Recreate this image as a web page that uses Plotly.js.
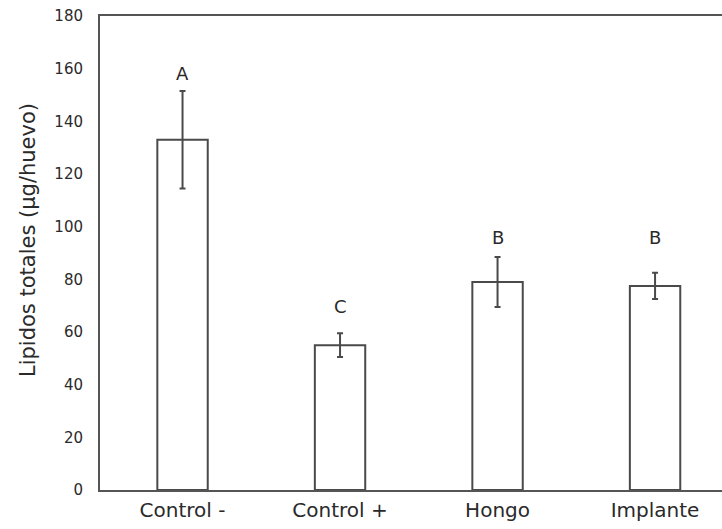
<!DOCTYPE html>
<html>
<head>
<meta charset="utf-8">
<script src="https://cdn.plot.ly/plotly-3.0.1.min.js"></script>
<style>html,body{margin:0;padding:0;background:#fff;}#chart{width:722px;height:529px;}</style>
</head>
<body>
<div id="chart"></div>
<script>
const categories = ["Control -", "Control +", "Hongo", "Implante"];
const means = [133, 55, 79, 77.5];
const errors = [18.5, 4.5, 9.5, 5];
const letters = ["A", "C", "B", "B"];
const letterY = [158, 69.5, 96, 96];
const yTicks = [0, 20, 40, 60, 80, 100, 120, 140, 160, 180];
const yTitle = "Lipidos totales (µg/huevo)";

const FONT = "DejaVu Sans, Liberation Sans, Arial, sans-serif";

const trace = {
  type: "bar",
  x: categories,
  y: means,
  width: 0.32,
  marker: {color: "#ffffff", line: {color: "#4a4a4a", width: 2}},
  error_y: {type: "data", array: errors, visible: true, color: "#4a4a4a", thickness: 2, width: 3},
  hoverinfo: "none"
};

const annotations = letters.map((t, i) => ({
  x: categories[i], y: letterY[i], xref: "x", yref: "y",
  text: t, showarrow: false, yanchor: "middle",
  font: {family: FONT, size: 18, color: "#2a2a2a"}
}));
annotations.push({
  xref: "paper", yref: "paper", x: -0.116, y: 0.527,
  xanchor: "center", yanchor: "middle", textangle: -90,
  text: yTitle, showarrow: false,
  font: {family: FONT, size: 21, color: "#2a2a2a"}
});

const layout = {
  width: 722, height: 529,
  margin: {l: 100, r: 0, t: 16, b: 39},
  paper_bgcolor: "#fff", plot_bgcolor: "#fff",
  showlegend: false,
  font: {family: FONT, color: "#2a2a2a"},
  xaxis: {
    type: "category", range: [-0.524, 3.425],
    showline: true, mirror: true, linecolor: "#555", linewidth: 2,
    showgrid: false, zeroline: false, ticks: "",
    tickfont: {size: 20, color: "#2a2a2a"}, ticklabelstandoff: 1
  },
  yaxis: {
    range: [0, 180], tickvals: yTicks, ticktext: yTicks.map(String),
    showline: true, mirror: false, linecolor: "#555", linewidth: 2,
    showgrid: false, zeroline: false, ticks: "",
    tickfont: {size: 15, color: "#2a2a2a"}, ticklabelstandoff: 12
  },
  annotations: annotations
};

Plotly.newPlot("chart", [trace], layout, {staticPlot: true, displayModeBar: false});
</script>
</body>
</html>
